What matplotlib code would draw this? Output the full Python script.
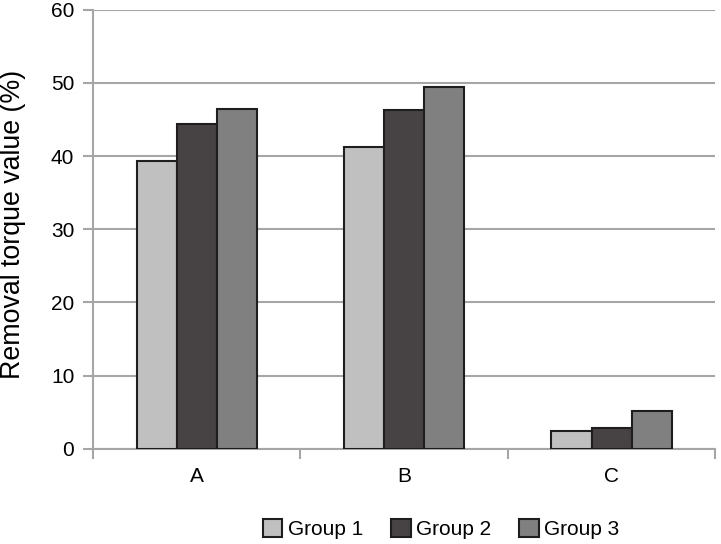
import matplotlib.pyplot as plt
import numpy as np

plt.rcParams['font.family'] = ['Liberation Sans', 'DejaVu Sans']

# Dados
categories = ['A', 'B', 'C']
group_names = ['Group 1', 'Group 2', 'Group 3']
group1 = [39.4, 41.2, 2.5]
group2 = [44.4, 46.3, 2.9]
group3 = [46.5, 49.4, 5.2]
y_ticks = [0, 10, 20, 30, 40, 50, 60]

colors = ['#c0c0c0', '#474344', '#808080']
grid_color = '#a6a6a6'

fig = plt.figure(figsize=(7.21, 5.44), dpi=100)
ax = fig.add_axes([0.129, 0.175, 0.863, 0.807])

x = np.arange(len(categories))
width = 0.193
for k, (vals, name) in enumerate(zip([group1, group2, group3], group_names)):
    ax.bar(x + (k - 1) * width, vals, width, color=colors[k], edgecolor='#1e1e1e',
           linewidth=1.5, label=name, zorder=3)

ax.set_xlim(-0.5, len(categories) - 0.5)
ax.set_ylim(0, 60)
ax.set_yticks(y_ticks)
ax.yaxis.grid(True, color=grid_color, linewidth=1.5, zorder=0)
ax.set_xticks(x)
ax.set_xticklabels(categories, fontsize=15)
ax.set_xticks(np.arange(-0.5, len(categories)), minor=True)
ax.tick_params(axis='x', which='major', length=0, pad=13)
ax.tick_params(axis='x', which='minor', length=7, width=1.5, color=grid_color)
ax.tick_params(axis='y', length=7.5, width=1.5, color=grid_color, labelsize=15, pad=6)

for side in ['top', 'right']:
    ax.spines[side].set_visible(False)
for side in ['left', 'bottom']:
    ax.spines[side].set_color(grid_color)
    ax.spines[side].set_linewidth(1.5)

ax.set_ylabel('Removal torque value (%)', fontsize=19.3)
ax.yaxis.set_label_coords(-0.108, 0.51)

fig.legend(loc='center', bbox_to_anchor=(441 / 721, 1 - 529 / 544), ncol=3, frameon=False,
           fontsize=15, handlelength=0.95, handleheight=0.95, handletextpad=0.25,
           columnspacing=1.35, borderpad=0)

plt.savefig('out.png', dpi=100)
